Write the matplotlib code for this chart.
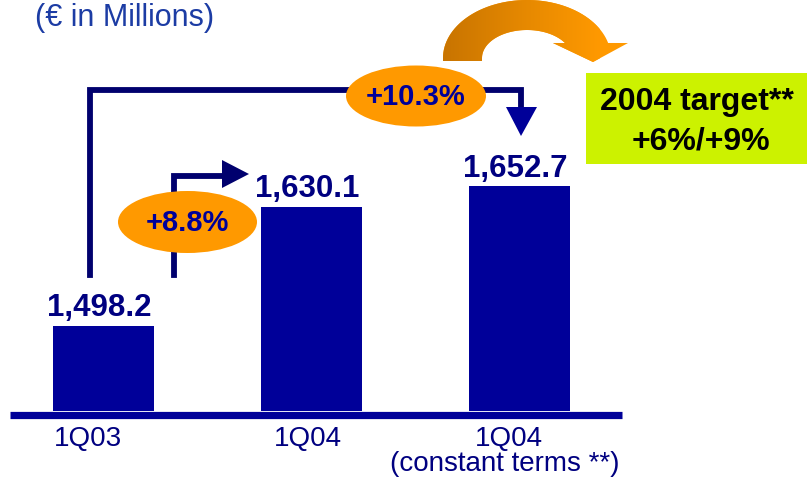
import numpy as np
import matplotlib
matplotlib.use("Agg")
import matplotlib.pyplot as plt
from matplotlib.patches import Ellipse, Polygon, Rectangle, PathPatch
from matplotlib.path import Path
from matplotlib.colors import LinearSegmentedColormap
from matplotlib.transforms import ScaledTranslation, blended_transform_factory

plt.rcParams['font.family'] = ['Liberation Sans', 'DejaVu Sans']

# ---- data ----
categories = ["1Q03", "1Q04", "1Q04"]
values = [1498.2, 1630.1, 1652.7]
value_labels = ["1,498.2", "1,630.1", "1,652.7"]
growth_labels = ["+8.8%", "+10.3%"]
title = "(\u20ac in Millions)"
subnote = "(constant terms **)"
target_lines = ["2004 target**", "+6%/+9%"]

BAR = "#000099"
NAVY = "#00006E"
ORANGE = "#FF9900"

W, H = 807, 478
fig = plt.figure(figsize=(W / 100, H / 100), dpi=100)

# bar axes: bottom at pixel row 411
base_px = 411
px_per_unit = 0.904
ymin = 1404.2
ax = fig.add_axes([0, (H - base_px) / H, 1, base_px / H])
ax.set_ylim(ymin, ymin + base_px / px_per_unit)
spacing = 208.0
first_center = 103.5
ax.set_xlim(-first_center / spacing, (W - first_center) / spacing)
x = np.arange(len(values))
ax.bar(x, values, width=101 / spacing, color=BAR, zorder=2)
for s in ax.spines.values():
    s.set_visible(False)
ax.set_yticks([])
ax.set_xticks(x, categories)
ax.tick_params(axis='x', length=0, pad=10.5, labelsize=20, labelcolor="#000080")
label_dx = [-16, -4, -11]
for lbl, dx in zip(ax.get_xticklabels(), label_dx):
    lbl.set_transform(lbl.get_transform() + ScaledTranslation(dx / 100, 0, fig.dpi_scale_trans))
ax.patch.set_visible(False)

# value labels
for xi, v, t in zip(x, values, value_labels):
    ax.annotate(t, (xi, v), xytext=(-3, 7), textcoords='offset points',
                ha='center', va='baseline', fontsize=22.5, fontweight='bold',
                color="#000080", zorder=3)

# overlay in pixel coordinates
ov = fig.add_axes([0, 0, 1, 1], zorder=3)
ov.set_xlim(0, W)
ov.set_ylim(H, 0)
ov.axis('off')
ov.patch.set_visible(False)

# baseline
ov.plot([10, 622], [414.5, 414.5], color=BAR, lw=5.2, solid_capstyle='butt')

# sub note below third tick
bt = blended_transform_factory(ax.transData, ov.transData)
ov.text(2, 471, subnote, transform=bt + ScaledTranslation(-15 / 100, 0, fig.dpi_scale_trans),
        ha='center', va='baseline', fontsize=20, color="#000080")

# title
ov.text(35, 26, title, ha='left', va='baseline', fontsize=22, color="#1C3CA4")

# connectors
lw = 4.2
ov.plot([89.5, 89.5, 520.5, 520.5], [275, 90, 90, 108], color=NAVY, lw=lw,
        solid_joinstyle='miter', zorder=1)
ov.add_patch(Polygon([(506, 107), (537, 107), (521, 136)], closed=True, color=BAR, lw=0))
ov.plot([174, 174, 224], [275, 175.5, 175.5], color=NAVY, lw=lw,
        solid_joinstyle='miter', zorder=1)
ov.add_patch(Polygon([(222, 160), (222, 188), (249, 174)], closed=True, color=NAVY, lw=0))

# growth ellipses
for (cx, cy, w, h), t in zip([(187.5, 222, 139, 62), (416, 96, 140, 61)], growth_labels):
    ov.add_patch(Ellipse((cx, cy), w, h, color=ORANGE, lw=0, zorder=4))
    ov.text(cx, cy + 1, t, ha='center', va='center', fontsize=21, fontweight='bold',
            color=BAR, zorder=5)

# curved gradient arrow
cxa, cya = 527, 58
th_o = np.radians(np.linspace(180, 15, 60))
th_i = np.radians(np.linspace(32.4, 180, 60))
outer = np.column_stack([cxa + 84 * np.cos(th_o), cya - 58 * np.sin(th_o)])
inner = np.column_stack([cxa + 45 * np.cos(th_i), cya - 28 * np.sin(th_i)])
pts = [(443, 61)] + [tuple(p) for p in outer] + [(628, 43), (593, 62), (553, 43)] + \
      [tuple(p) for p in inner] + [(482, 61), (443, 61)]
path = Path(pts)
patch = PathPatch(path, facecolor='none', edgecolor='none')
ov.add_patch(patch)
cmap = LinearSegmentedColormap.from_list("og", ["#C87400", "#E58800", "#FF9900"])
grad = np.linspace(0, 1, 256).reshape(1, -1)
im = ov.imshow(grad, extent=(443, 600, 65, -2), cmap=cmap, aspect='auto', zorder=2)
im.set_clip_path(patch)
ov.add_patch(PathPatch(path, facecolor=ORANGE, edgecolor='none', zorder=1.9))
ov.set_xlim(0, W)
ov.set_ylim(H, 0)

# target box
ov.add_patch(Rectangle((586, 73), 221, 91, color="#CCF200", lw=0, zorder=2))
ov.text(697, 110, target_lines[0], ha='center', va='baseline', fontsize=23,
        fontweight='bold', color='black', zorder=3)
ov.text(701, 150, target_lines[1], ha='center', va='baseline', fontsize=23,
        fontweight='bold', color='black', zorder=3)

fig.savefig("out.png", dpi=100)
